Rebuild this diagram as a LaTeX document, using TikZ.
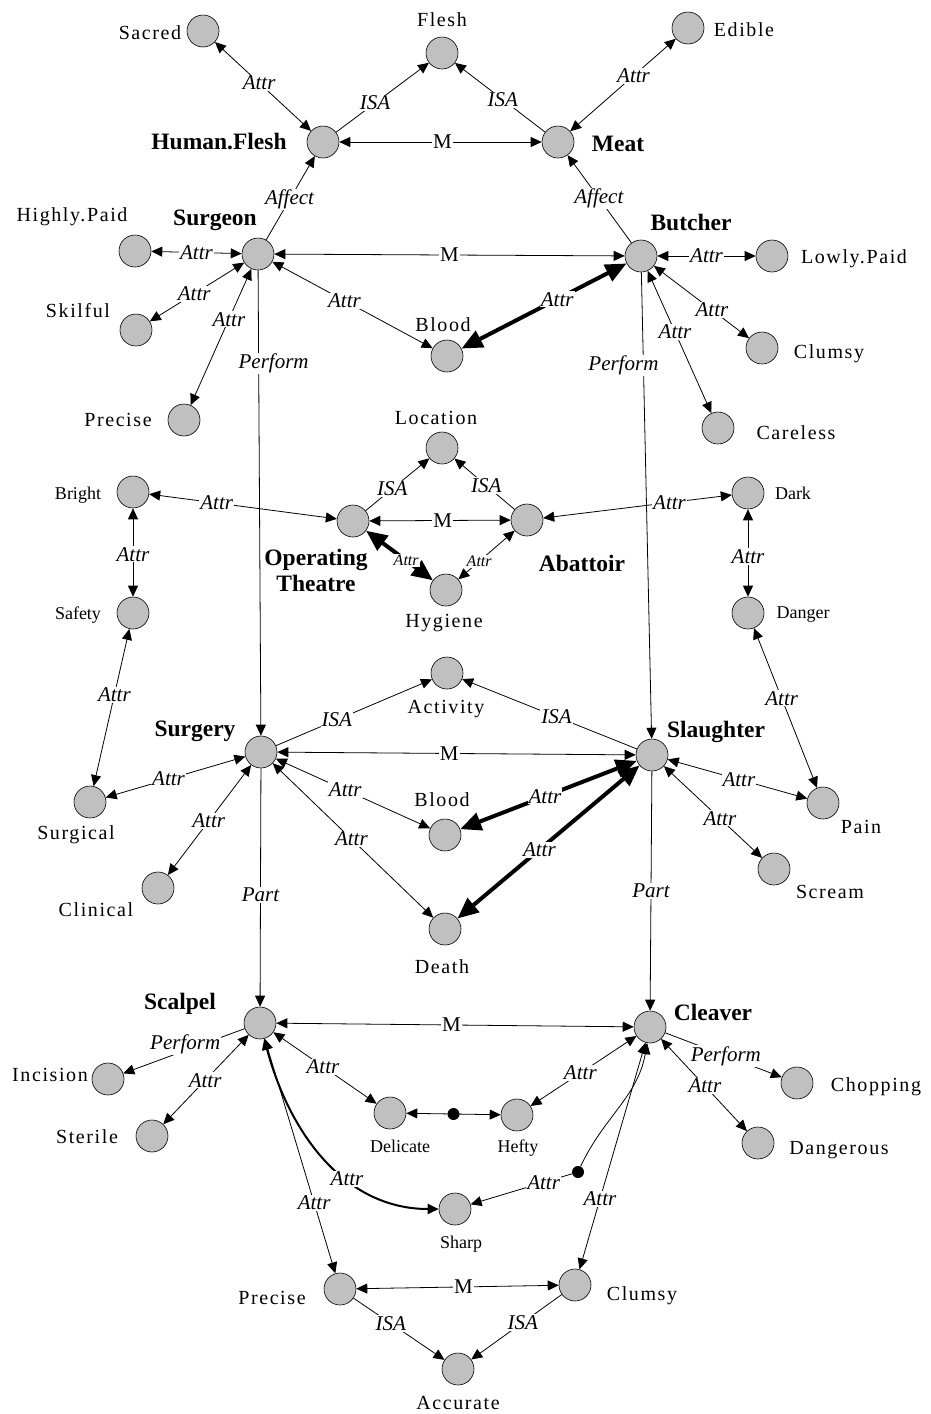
\documentclass[tikz,border=0pt]{standalone}
\usepackage{fontspec}
\setmainfont{Liberation Serif}
\newfontfamily\wideserif[LetterSpace=8]{Liberation Serif}
\usetikzlibrary{arrows.meta}
\definecolor{nodegray}{HTML}{C0C0C0}

\begin{document}
\begin{tikzpicture}[x=1pt,y=-1pt,
  cnode/.style={circle, draw, line width=0.6pt, fill=nodegray, minimum size=32pt, inner sep=0pt},
  jdot/.style={circle, fill=black, minimum size=12pt, inner sep=0pt},
  lab/.style={font=\wideserif\fontsize{20}{22}\selectfont, inner sep=0pt},
  slab/.style={font=\fontsize{18}{20}\selectfont, inner sep=0pt},
  blab/.style={font=\bfseries\fontsize{23.5}{26}\selectfont, inner sep=0pt, align=center},
  rel/.style={font=\itshape\fontsize{21}{22}\selectfont, fill=white, inner sep=1pt},
  srel/.style={font=\itshape\fontsize{16}{18}\selectfont, fill=white, inner sep=1pt},
  mrel/.style={font=\fontsize{21}{22}\selectfont, fill=white, inner sep=1pt},
  arrowone/.style={line width=0.8pt, -{Triangle[length=11pt,width=10pt]}},
  arrowtwo/.style={line width=0.8pt, {Triangle[length=11pt,width=10pt]}-{Triangle[length=11pt,width=10pt]}},
  arrowheavy/.style={line width=4pt, {Triangle[length=21pt,width=18pt]}-{Triangle[length=21pt,width=18pt]}}
]
\fill[white] (0,0) rectangle (931,1414);
\useasboundingbox (0,0) rectangle (931,1414);

% ---- concept nodes ----
\node[cnode] (sacred) at (203,31) {};
\node[cnode] (flesh) at (442,53) {};
\node[cnode] (edible) at (688,28) {};
\node[cnode] (hflesh) at (323,142) {};
\node[cnode] (meat) at (558,142) {};
\node[cnode] (surgeon) at (258,254) {};
\node[cnode] (butcher) at (641,256) {};
\node[cnode] (hpaid) at (135,251) {};
\node[cnode] (lpaid) at (772,256) {};
\node[cnode] (skilful) at (136,330) {};
\node[cnode] (bloodA) at (447,356) {};
\node[cnode] (clumsyA) at (762,348) {};
\node[cnode] (preciseA) at (184,420) {};
\node[cnode] (careless) at (718,428) {};
\node[cnode] (location) at (442,448) {};
\node[cnode] (bright) at (133,492) {};
\node[cnode] (dark) at (748,493) {};
\node[cnode] (otheatre) at (353,521) {};
\node[cnode] (abattoir) at (527,520) {};
\node[cnode] (hygiene) at (446,590) {};
\node[cnode] (safety) at (133,613) {};
\node[cnode] (danger) at (748,613) {};
\node[cnode] (activity) at (447,673) {};
\node[cnode] (surgery) at (261,752) {};
\node[cnode] (slaughter) at (652,755) {};
\node[cnode] (surgical) at (90,802) {};
\node[cnode] (bloodB) at (445,835) {};
\node[cnode] (pain) at (823,803) {};
\node[cnode] (clinical) at (158,888) {};
\node[cnode] (scream) at (774,869) {};
\node[cnode] (death) at (445,929) {};
\node[cnode] (scalpel) at (260,1023) {};
\node[cnode] (cleaver) at (650,1027) {};
\node[cnode] (incision) at (108,1079) {};
\node[cnode] (chopping) at (797,1083) {};
\node[cnode] (sterile) at (152,1136) {};
\node[cnode] (delicate) at (390,1113) {};
\node[cnode] (hefty) at (517,1115) {};
\node[cnode] (dangerous) at (758,1143) {};
\node[cnode] (sharp) at (455,1209) {};
\node[cnode] (preciseB) at (340,1289) {};
\node[cnode] (clumsyB) at (575,1285) {};
\node[cnode] (accurate) at (458,1369) {};
\node[jdot] (joint) at (578,1172) {};

% ---- concept names ----
\node[lab] (tSacred) at (150,33) {Sacred};
\node[lab] (tFlesh) at (442,20) {Flesh};
\node[lab] (tEdible) at (744,30) {Edible};
\node[blab] (tHflesh) at (219,142) {Human.Flesh};
\node[blab] (tMeat) at (618,144) {Meat};
\node[blab] (tSurgeon) at (215,220) {Surgeon};
\node[blab] (tButcher) at (691,222) {Butcher};
\node[lab] (tHpaid) at (72,217) {Highly.Paid};
\node[lab] (tLpaid) at (854,259) {Lowly.Paid};
\node[lab] (tSkilful) at (78,311) {Skilful};
\node[lab] (tBloodA) at (443,325) {Blood};
\node[lab] (tClumsyA) at (829,354) {Clumsy};
\node[lab] (tPreciseA) at (118,420) {Precise};
\node[lab] (tCareless) at (796,433) {Careless};
\node[lab] (tLocation) at (436,418) {Location};
\node[slab] (tBright) at (78,495) {Bright};
\node[slab] (tDark) at (793,493) {Dark};
\node[blab] (tOtheatre) at (316,570) {Operating\\Theatre};
\node[blab] (tAbattoir) at (582,563) {Abattoir};
\node[lab] (tHygiene) at (444,623) {Hygiene};
\node[slab] (tSafety) at (78,615) {Safety};
\node[slab] (tDanger) at (803,615) {Danger};
\node[lab] (tActivity) at (446,709) {Activity};
\node[blab] (tSurgery) at (195,731) {Surgery};
\node[blab] (tSlaughter) at (716,732) {Slaughter};
\node[lab] (tSurgical) at (76,835) {Surgical};
\node[lab] (tBloodB) at (442,800) {Blood};
\node[lab] (tPain) at (861,827) {Pain};
\node[lab] (tClinical) at (96,910) {Clinical};
\node[lab] (tScream) at (830,892) {Scream};
\node[lab] (tDeath) at (442,967) {Death};
\node[blab] (tScalpel) at (180,1004) {Scalpel};
\node[blab] (tCleaver) at (713,1012) {Cleaver};
\node[lab] (tIncision) at (50,1075) {Incision};
\node[lab] (tChopping) at (876,1087) {Chopping};
\node[lab] (tSterile) at (87,1137) {Sterile};
\node[slab] (tDelicate) at (400,1146) {Delicate};
\node[slab] (tHefty) at (518,1148) {Hefty};
\node[lab] (tDangerous) at (839,1150) {Dangerous};
\node[slab] (tSharp) at (461,1244) {Sharp};
\node[lab] (tPreciseB) at (272,1298) {Precise};
\node[lab] (tClumsyB) at (642,1296) {Clumsy};
\node[lab] (tAccurate) at (458,1403) {Accurate};

% ---- top: flesh and meat ----
\draw[arrowtwo] (sacred) -- node[rel,pos=0.46] (e1) {Attr} (hflesh);
\draw[arrowone] (hflesh) -- node[rel,pos=0.42] (e2) {ISA} (flesh);
\draw[arrowone] (meat) -- node[rel,pos=0.47] (e3) {ISA} (flesh);
\draw[arrowtwo] (hflesh) -- node[mrel,pos=0.51] (e4) {M} (meat);
\draw[arrowtwo] (meat) -- node[rel,pos=0.6] (e5) {Attr} (edible);
\draw[arrowone] (surgeon) -- node[rel,pos=0.48] (e6) {Affect} (hflesh);
\draw[arrowone] (butcher) -- node[rel,pos=0.51] (e7) {Affect} (meat);

% ---- surgeon and butcher ----
\draw[arrowtwo] (surgeon) -- node[mrel,pos=0.5] (e8) {M} (butcher);
\draw[arrowtwo] (surgeon) -- node[rel,pos=0.5] (e9) {Attr} (hpaid);
\draw[arrowtwo] (surgeon) -- node[rel,pos=0.53] (e10) {Attr} (skilful);
\draw[arrowtwo] (surgeon) -- node[rel,pos=0.37] (e11) {Attr} (preciseA);
\draw[arrowtwo] (surgeon) -- node[rel,pos=0.45] (e12) {Attr} (bloodA);
\draw[arrowheavy] (butcher) -- node[rel,pos=0.42] (e13) {Attr} (bloodA);
\draw[arrowtwo] (butcher) -- node[rel,pos=0.5] (e14) {Attr} (lpaid);
\draw[arrowtwo] (butcher) -- node[rel,pos=0.61] (e15) {Attr} (clumsyA);
\draw[arrowtwo] (butcher) -- node[rel,pos=0.43] (e16) {Attr} (careless);
\draw[arrowone] (surgeon) -- node[rel,pos=0.2,xshift=15pt] (e17) {Perform} (surgery);
\draw[arrowone] (butcher) -- node[rel,pos=0.2,xshift=-20pt] (e18) {Perform} (slaughter);

% ---- locations ----
\draw[arrowone] (otheatre) -- node[rel,pos=0.42] (e19) {ISA} (location);
\draw[arrowone] (abattoir) -- node[rel,pos=0.47] (e20) {ISA} (location);
\draw[arrowtwo] (otheatre) -- node[mrel,pos=0.52] (e21) {M} (abattoir);
\draw[arrowheavy] (otheatre) -- node[srel,pos=0.6] (e22) {Attr} (hygiene);
\draw[arrowtwo] (abattoir) -- node[srel,pos=0.63] (e23) {Attr} (hygiene);
\draw[arrowtwo] (bright) -- node[rel,pos=0.36] (e24) {Attr} (otheatre);
\draw[arrowtwo] (abattoir) -- node[rel,pos=0.67] (e25) {Attr} (dark);
\draw[arrowtwo] (bright) -- node[rel,pos=0.52] (e26) {Attr} (safety);
\draw[arrowtwo] (dark) -- node[rel,pos=0.54] (e27) {Attr} (danger);
\draw[arrowtwo] (safety) -- node[rel,pos=0.42] (e28) {Attr} (surgical);
\draw[arrowtwo] (danger) -- node[rel,pos=0.44] (e29) {Attr} (pain);

% ---- surgery and slaughter ----
\draw[arrowone] (surgery) -- node[rel,pos=0.39] (e30) {ISA} (activity);
\draw[arrowone] (slaughter) -- node[rel,pos=0.46] (e31) {ISA} (activity);
\draw[arrowtwo] (surgery) -- node[mrel,pos=0.48] (e32) {M} (slaughter);
\draw[arrowtwo] (surgery) -- node[rel,pos=0.55] (e33) {Attr} (surgical);
\draw[arrowtwo] (surgery) -- node[rel,pos=0.51] (e34) {Attr} (clinical);
\draw[arrowtwo] (surgery) -- node[rel,pos=0.45] (e35) {Attr} (bloodB);
\draw[arrowtwo] (surgery) -- node[rel,pos=0.49] (e36) {Attr} (death);
\draw[arrowheavy] (slaughter) -- node[rel,pos=0.52] (e37) {Attr} (bloodB);
\draw[arrowheavy] (slaughter) -- node[rel,pos=0.55] (e38) {Attr} (death);
\draw[arrowtwo] (slaughter) -- node[rel,pos=0.51] (e39) {Attr} (pain);
\draw[arrowtwo] (slaughter) -- node[rel,pos=0.57] (e40) {Attr} (scream);
\draw[arrowone] (surgery) -- node[rel,pos=0.53] (e41) {Part} (scalpel);
\draw[arrowone] (slaughter) -- node[rel,pos=0.5] (e42) {Part} (cleaver);

% ---- scalpel and cleaver ----
\draw[arrowtwo] (scalpel) -- node[mrel,pos=0.49] (e43) {M} (cleaver);
\draw[arrowone] (scalpel) -- node[rel,pos=0.49,yshift=6pt] (e44) {Perform} (incision);
\draw[arrowtwo] (scalpel) -- node[rel,pos=0.51] (e45) {Attr} (sterile);
\draw[arrowtwo] (scalpel) -- node[rel,pos=0.48] (e46) {Attr} (delicate);
\draw[arrowtwo] (cleaver) -- node[rel,pos=0.53] (e47) {Attr} (hefty);
\draw[arrowtwo] (delicate) -- node[jdot,pos=0.5] (e48) {} (hefty);
\draw[arrowone] (cleaver) -- node[rel,pos=0.52] (e49) {Perform} (chopping);
\draw[arrowtwo] (cleaver) -- node[rel,pos=0.51] (e50) {Attr} (dangerous);
\draw[arrowtwo, line width=2pt] (scalpel) to[out=-75,in=180] node[rel,pos=0.62] (e51) {Attr} (sharp);
\draw[line width=0.8pt, {Triangle[length=11pt,width=10pt]}-] (cleaver) to[out=-100,in=65] (joint);
\draw[arrowone] (joint) -- node[rel,pos=0.28] (e52) {Attr} (sharp);
\draw[arrowtwo] (scalpel) -- node[rel,pos=0.7] (e53) {Attr} (preciseB);
\draw[arrowtwo] (cleaver) -- node[rel,pos=0.69] (e54) {Attr} (clumsyB);
\draw[arrowtwo] (preciseB) -- node[mrel,pos=0.53] (e55) {M} (clumsyB);
\draw[arrowone] (preciseB) -- node[rel,pos=0.41] (e56) {ISA} (accurate);
\draw[arrowone] (clumsyB) -- node[rel,pos=0.43] (e57) {ISA} (accurate);
\end{tikzpicture}
\end{document}
